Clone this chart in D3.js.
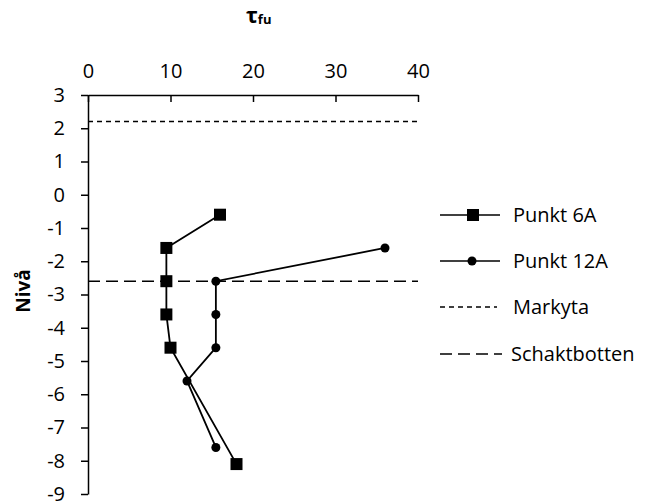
<!DOCTYPE html>
<meta charset="utf-8">
<style>
    body { margin: 0; background: #fff; }
    text { font-family: "Open Sans", "Liberation Sans", sans-serif; fill: #000; }
    .axis path, .axis line { stroke: #000; stroke-width: 1.5; }
    .axis text { font-size: 20px; }
</style>
<svg width="648" height="502"></svg>
<script src="https://cdn.jsdelivr.net/npm/d3@7"></script>
<script>

    // values
    var xTicks = [0, 10, 20, 30, 40];
    var yTicks = [3, 2, 1, 0, -1, -2, -3, -4, -5, -6, -7, -8, -9];

    var punkt6A_tau  = [16, 9.5, 9.5, 9.5, 10, 18];
    var punkt6A_niva = [-0.6, -1.6, -2.6, -3.6, -4.6, -8.1];

    var punkt12A_tau  = [36, 15.5, 15.5, 15.5, 12, 15.5];
    var punkt12A_niva = [-1.6, -2.6, -3.6, -4.6, -5.6, -7.6];

    var markyta = 2.2;
    var schaktbotten = -2.6;

    var legendNames = ["Punkt 6A", "Punkt 12A", "Markyta", "Schaktbotten"];

    var svg = d3.select("svg");

    var x = d3.scaleLinear().domain([0, 40]).range([88, 418]);
    var y = d3.scaleLinear().domain([3, -9]).range([95, 494]);

    // axes (x ticks point into the plot, y ticks point out)
    svg.append("g")
        .attr("class", "axis")
        .attr("transform", "translate(0," + y(3) + ")")
        .call(d3.axisTop(x).tickValues(xTicks).tickSize(-7).tickSizeOuter(0).tickPadding(17));

    svg.append("g")
        .attr("class", "axis")
        .attr("transform", "translate(" + x(0) + ",0)")
        .call(d3.axisLeft(y).tickValues(yTicks).tickSize(7).tickSizeOuter(0).tickPadding(16)
            .tickFormat(function(d) { return d < 0 ? "-" + Math.abs(d) : d; }));

    // horizontal reference lines
    svg.append("line")
        .attr("x1", x(0)).attr("x2", x(40))
        .attr("y1", y(markyta)).attr("y2", y(markyta))
        .attr("stroke", "#000").attr("stroke-width", 1.5)
        .attr("stroke-dasharray", "5,4");

    svg.append("line")
        .attr("x1", x(0)).attr("x2", x(40))
        .attr("y1", y(schaktbotten)).attr("y2", y(schaktbotten))
        .attr("stroke", "#000").attr("stroke-width", 1.5)
        .attr("stroke-dasharray", "12,6");

    var line = d3.line()
        .x(function(d) { return x(d[0]); })
        .y(function(d) { return y(d[1]); });

    var pts6A = d3.zip(punkt6A_tau, punkt6A_niva);
    var pts12A = d3.zip(punkt12A_tau, punkt12A_niva);

    svg.append("path").datum(pts6A)
        .attr("d", line).attr("fill", "none")
        .attr("stroke", "#000").attr("stroke-width", 1.8);

    svg.append("path").datum(pts12A)
        .attr("d", line).attr("fill", "none")
        .attr("stroke", "#000").attr("stroke-width", 1.8);

    svg.selectAll(".sq").data(pts6A)
        .enter().append("rect")
        .attr("class", "sq")
        .attr("x", function(d) { return x(d[0]) - 6; })
        .attr("y", function(d) { return y(d[1]) - 6; })
        .attr("width", 12).attr("height", 12)
        .attr("fill", "#000");

    svg.selectAll(".dot").data(pts12A)
        .enter().append("circle")
        .attr("class", "dot")
        .attr("cx", function(d) { return x(d[0]); })
        .attr("cy", function(d) { return y(d[1]); })
        .attr("r", 4.5)
        .attr("fill", "#000");

    // titles
    var title = svg.append("text")
        .attr("x", 246).attr("y", 23)
        .style("font-weight", "bold")
        .style("font-size", "22px");
    title.append("tspan").text("τ");
    title.append("tspan").text("fu").style("font-size", "13px").attr("dy", 1);

    svg.append("text")
        .attr("transform", "translate(30,291)rotate(-90)")
        .attr("text-anchor", "middle")
        .style("font-weight", "bold")
        .style("font-size", "19px")
        .text("Nivå");

    // legend
    var legend = svg.append("g");
    var rowY = [215, 261, 307, 354];

    legendNames.forEach(function(name, i) {
        var g = legend.append("g").attr("transform", "translate(0," + rowY[i] + ")");
        var ln = g.append("line")
            .attr("x1", 440).attr("x2", i == 3 ? 502 : 500)
            .attr("stroke", "#000").attr("stroke-width", 1.5);
        if (i == 2) ln.attr("x2", 497).attr("stroke-dasharray", "5,4");
        if (i == 3) ln.attr("stroke-dasharray", "12,6");
        if (i == 0) g.append("rect").attr("x", 467).attr("y", -6).attr("width", 12).attr("height", 12);
        if (i == 1) g.append("circle").attr("cx", 472).attr("r", 4.5);
        g.append("text")
            .attr("x", i == 3 ? 511 : 513).attr("y", 7)
            .style("font-size", "20px")
            .text(name);
    });

</script>
